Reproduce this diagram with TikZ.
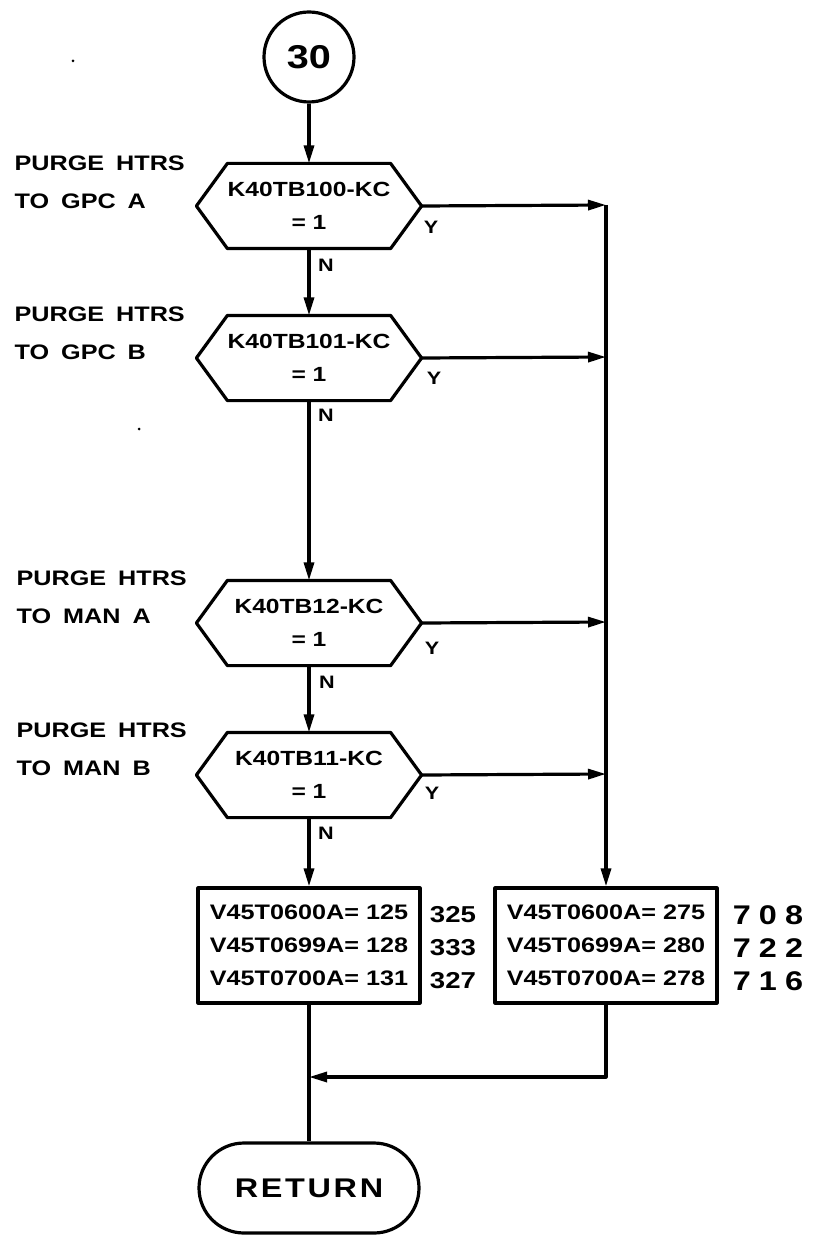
\documentclass[tikz,border=0pt]{standalone}
\usepackage{fontspec}
\setmainfont{Liberation Sans}[FakeStretch=1.2]
\usetikzlibrary{arrows.meta}
\newcommand\gap{\hspace{12pt}}
\begin{document}
\begin{tikzpicture}[x=1pt,y=-1pt,
  line width=3.2pt, line join=round,
  arr/.style={-{Triangle[length=18pt,width=10pt]}},
  hexbox/.style={minimum width=222pt, minimum height=82pt, inner sep=0pt, align=center,
    font=\bfseries\fontsize{20.5}{33}\selectfont},
  databox/.style={draw, minimum width=222pt, minimum height=115pt, inner sep=0pt, align=left,
    font=\bfseries\fontsize{21}{33}\selectfont},
  lbl/.style={anchor=west, align=left, inner sep=0pt, font=\bfseries\fontsize{21}{38}\selectfont},
  yn/.style={inner sep=0pt, font=\bfseries\fontsize{18}{18}\selectfont},
  num/.style={inner sep=0pt, align=center, font=\bfseries\fontsize{23}{33}\selectfont},
  bignum/.style={inner sep=0pt, align=center, font=\bfseries\fontsize{27}{33}\selectfont\addfontfeatures{LetterSpace=30}},
  connector/.style={draw, circle, minimum size=90pt, inner sep=0pt, font=\bfseries\fontsize{33}{33}\selectfont},
  terminal/.style={draw, rounded corners=45pt, minimum width=220pt, minimum height=90pt, inner sep=0pt,
    font=\bfseries\fontsize{27}{27}\selectfont\addfontfeatures{LetterSpace=10}}]
\useasboundingbox (0,0) rectangle (814,1238);

% specks
\fill (73,61) circle (1.5pt);
\fill (139,429) circle (1.5pt);

% connector
\node[connector] (c) at (309,57) {30};

% decisions
\node[hexbox] (h1) at (309,206) {K40TB100-KC\\= 1};
\node[hexbox] (h2) at (309,358) {K40TB101-KC\\= 1};
\node[hexbox] (h3) at (309,623) {K40TB12-KC\\= 1};
\node[hexbox] (h4) at (309,775) {K40TB11-KC\\= 1};
\foreach \n in {h1,h2,h3,h4}{
  \draw (\n.west) -- ([xshift=31pt]\n.north west) -- ([xshift=-31pt]\n.north east)
     -- (\n.east) -- ([xshift=-31pt]\n.south east) -- ([xshift=31pt]\n.south west) -- cycle;
}

% side labels
\node[lbl] (l1) at (13,182) {PURGE\gap HTRS\\TO\gap GPC\gap A};
\node[lbl] (l2) at (13,333) {PURGE\gap HTRS\\TO\gap GPC\gap B};
\node[lbl] (l3) at (15,597) {PURGE\gap HTRS\\TO\gap MAN\gap A};
\node[lbl] (l4) at (15,749) {PURGE\gap HTRS\\TO\gap MAN\gap B};

% Y / N labels
\node[yn] (y1) at (431,227) {Y};
\node[yn] (y2) at (434,378) {Y};
\node[yn] (y3) at (432,648) {Y};
\node[yn] (y4) at (432,793) {Y};
\node[yn] (n1) at (326,265) {N};
\node[yn] (n2) at (326,415) {N};
\node[yn] (n3) at (327,682) {N};
\node[yn] (n4) at (326,833) {N};

% data boxes
\node[databox] (b1) at (309,945.5) {V45T0600A= 125\\V45T0699A= 128\\V45T0700A= 131};
\node[databox] (b2) at (606,945.5) {V45T0600A= 275\\V45T0699A= 280\\V45T0700A= 278};
\node[num] (k1) at (453,948) {325\\333\\327};
\node[bignum] (k2) at (768,948) {708\\722\\716};

% return
\node[terminal] (ret) at (309,1188) {RETURN};

% junctions
\coordinate (j1) at (606,205);
\coordinate (j2) at (606,357);
\coordinate (j3) at (606,622);
\coordinate (j4) at (606,774);
\coordinate (mj) at (309,1077);

% connectors
\draw[arr] (c.south) -- (h1.north);
\draw[arr] (h1.south) -- (h2.north);
\draw[arr] (h2.south) -- (h3.north);
\draw[arr] (h3.south) -- (h4.north);
\draw[arr] (h4.south) -- (b1.north);
\draw[arr] (h1.east) -- (j1);
\draw[arr] (h2.east) -- (j2);
\draw[arr] (h3.east) -- (j3);
\draw[arr] (h4.east) -- (j4);
\draw[arr] (j1) -- (b2.north);
\draw[arr] (b2.south) |- (mj);
\draw (b1.south) -- (ret.north);
\end{tikzpicture}
\end{document}
